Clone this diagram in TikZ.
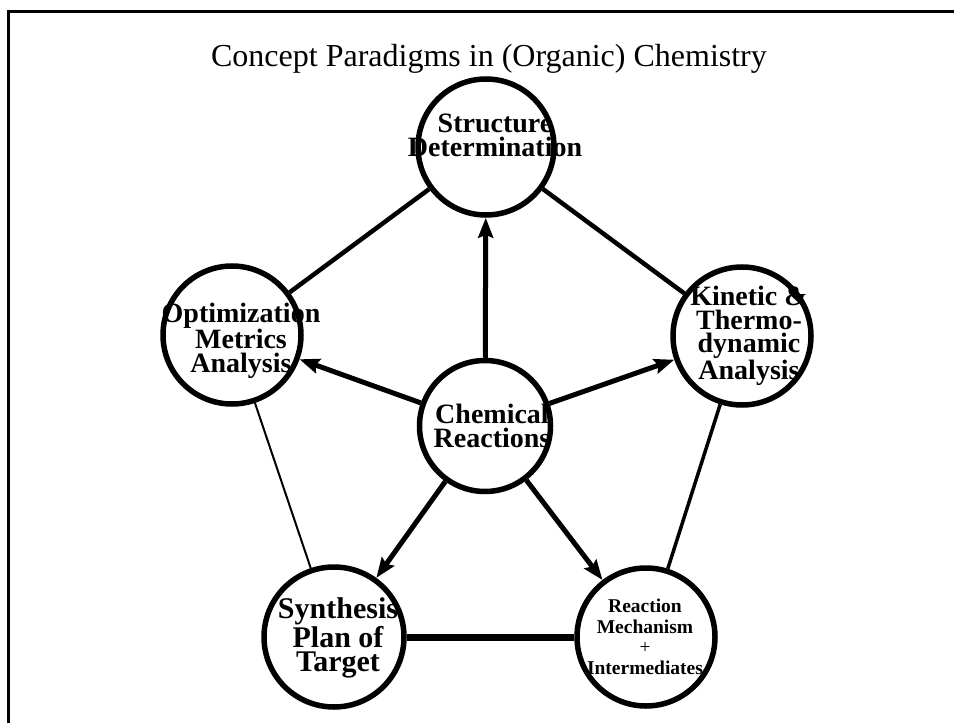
\documentclass[tikz,border=0pt]{standalone}
\usepackage{fontspec}
\setmainfont{Liberation Serif}
\usetikzlibrary{arrows.meta}
\begin{document}
\begin{tikzpicture}[x=1bp,y=-1bp,
  ring/.style={circle,draw,line width=5.5bp,minimum size=#1,inner sep=0pt},
  lbl/.style={align=center,inner sep=0pt,font=\fontsize{28bp}{24bp}\selectfont\bfseries},
  arr/.style={line width=5bp,-{Stealth[length=20bp,width=15bp,inset=3bp]}},
  ]
\useasboundingbox (0,0) rectangle (954,723);
% frame (top and left edges visible)
\coordinate (fa) at (960,11.5);
\coordinate (fb) at (8.5,11.5);
\coordinate (fc) at (8.5,730);
\draw[line width=3bp] (fa) -- (fb) -- (fc);
% title
\node[anchor=base,inner sep=0pt,font=\fontsize{32bp}{36bp}\selectfont] (title) at (489,67) {Concept Paradigms in (Organic) Chemistry};
% circles
\node[ring=136bp] (S) at (486,147) {};
\node[ring=138bp] (O) at (232,335) {};
\node[ring=131bp] (C) at (485,426) {};
\node[ring=138bp] (K) at (742,336) {};
\node[ring=140bp] (Y) at (334,637) {};
\node[ring=138bp] (R) at (646,637) {};
% labels
\node[lbl] (tS) at (495,135) {Structure\\Determination};
\node[lbl] (tO) at (241,341) {Optimization\\Metrics\\Analysis};
\node[lbl] (tC) at (492,425.5) {Chemical\\Reactions};
\node[lbl,font=\fontsize{28bp}{23.5bp}\selectfont\bfseries] (tK) at (749,336) {Kinetic \&\\Thermo-\\dynamic\\Analysis};
\node[lbl,font=\fontsize{30bp}{24.5bp}\selectfont\bfseries] (tY) at (338,638) {Synthesis\\Plan of\\Target};
\node[lbl,font=\fontsize{19.5bp}{20.5bp}\selectfont\bfseries] (tR) at (645,637) {Reaction\\Mechanism\\{\mdseries +}\\Intermediates};
% plain connectors
\draw[line width=4.5bp] (S) -- (O);
\draw[line width=4.5bp] (S) -- (K);
\draw[line width=2bp] (O) -- (Y);
\draw[line width=3.5bp] (K) -- (R);
\draw[line width=7bp] (Y) -- (R);
% arrows from the centre
\draw[arr] (C) -- (S);
\draw[arr] (C) -- (O);
\draw[arr] (C) -- (K);
\draw[arr] (C) -- (Y);
\draw[arr] (C) -- (R);
\end{tikzpicture}
\end{document}
